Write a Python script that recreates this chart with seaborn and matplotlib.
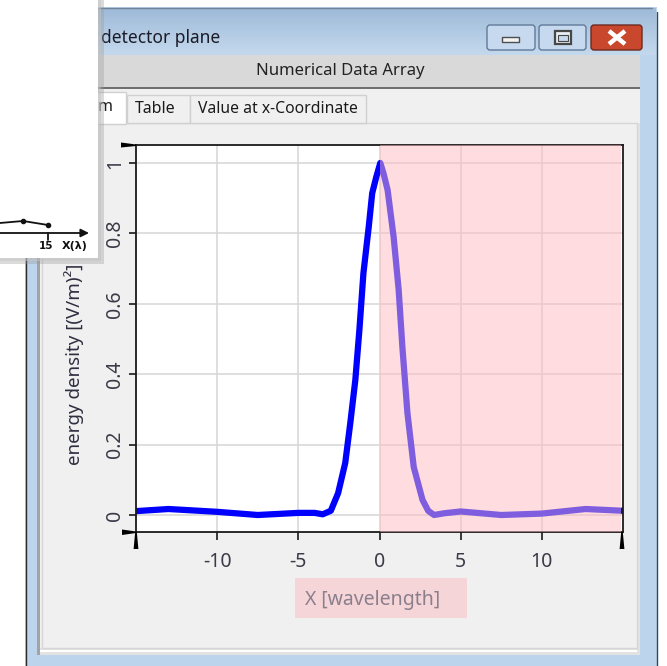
import numpy as np
import matplotlib
matplotlib.use("Agg")
import matplotlib.pyplot as plt
import seaborn as sns
from matplotlib.patches import Rectangle, FancyBboxPatch, Polygon

# energy density profile across the detector plane
x_pos = [-15, -13, -10, -7.5, -5, -4, -3.5, -3.0, -2.55, -2.11, -1.80, -1.49,
         -1.24, -0.99, -0.66, -0.45, -0.2, 0.05, 0.25, 0.5, 0.87, 1.18, 1.41,
         1.72, 2.11, 2.65, 3.0, 3.36, 4, 5, 7.5, 10, 12.7, 15]
energy = [0.011, 0.017, 0.009, 0.0, 0.006, 0.006, 0.002, 0.012, 0.062, 0.148,
          0.261, 0.383, 0.525, 0.687, 0.82, 0.914, 0.96, 1.0, 0.97, 0.923,
          0.79, 0.64, 0.477, 0.29, 0.136, 0.043, 0.012, 0.0, 0.005, 0.01,
          0.0, 0.004, 0.017, 0.012]
x_ticks = [-10, -5, 0, 5, 10]
y_ticks = [0, 0.2, 0.4, 0.6, 0.8, 1]
y_tick_labels = ["0", "0.2", "0.4", "0.6", "0.8", "1"]

sns.set_theme(style="white")
plt.rcParams["font.family"] = ["Noto Sans", "DejaVu Sans"]

W, H = 667, 666
fig = plt.figure(figsize=(W / 100, H / 100), dpi=100)
fig.patch.set_facecolor("white")

# ---- window chrome (pixel coordinates) ----
bg = fig.add_axes([0, 0, 1, 1], zorder=0)
bg.set_xlim(0, W)
bg.set_ylim(H, 0)
bg.axis("off")


def rect(ax, x0, y0, x1, y1, **kw):
    kw.setdefault("ec", "none")
    ax.add_patch(Rectangle((x0, y0), x1 - x0, y1 - y0, **kw))


rect(bg, 25, 7, 657, H, fc="#bcd4ec")
grad = np.linspace(0, 1, 64)[:, None, None]
top_c = np.array([0.62, 0.73, 0.85])
bot_c = np.array([0.77, 0.85, 0.93])
bg.imshow(top_c * (1 - grad) + bot_c * grad, extent=[26, 656, 55, 8],
          aspect="auto", zorder=1)
bg.plot([25.5, 25.5], [12, H], color="#2b2b2b", lw=1, zorder=2)
bg.plot([656.5, 656.5], [12, H], color="#31495f", lw=1, zorder=2)
bg.plot([30, 652], [7.5, 7.5], color="#6f8498", lw=1, zorder=2)

rect(bg, 37, 55, 640, 87, fc="#d9d9d9", zorder=2)
rect(bg, 37, 87, 640, 89, fc="#6f6f6f", zorder=2)
rect(bg, 37, 89, 640, 655, fc="#f0f0f0", zorder=2)
rect(bg, 37, 89, 40, 655, fc="#a3a3a3", zorder=3)
rect(bg, 40, 648, 640, 655, fc="#e2e2e2", zorder=3)
rect(bg, 40, 650, 640, 652, fc="#ffffff", zorder=3)
rect(bg, 637, 123, 640, 655, fc="#e2e2e2", zorder=3)
rect(bg, 42, 123, 637, 648, fc="#f0f0f0", ec="#d6d6d6", lw=1, zorder=3)

bg.text(340, 71, "Numerical Data Array", ha="center", va="center",
        fontsize=12, color="#222222", zorder=4)
bg.text(101, 38, "detector plane", ha="left", va="center",
        fontsize=12.5, color="#1b1b28", zorder=4)

# tabs
rect(bg, 45, 92, 126, 124, fc="#ffffff", ec="#d0d0d0", lw=1, zorder=4)
rect(bg, 127, 95, 190, 123, fc="#f0f0f0", ec="#d0d0d0", lw=1, zorder=4)
rect(bg, 190, 95, 366, 123, fc="#f0f0f0", ec="#d0d0d0", lw=1, zorder=4)
bg.text(114, 107, "Diagram", ha="right", va="center", fontsize=11.5,
        color="#1b1b1b", zorder=5)
bg.text(155, 109, "Table", ha="center", va="center", fontsize=11.5,
        color="#1b1b1b", zorder=5)
bg.text(278, 109, "Value at x-Coordinate", ha="center", va="center",
        fontsize=11.3, color="#1b1b1b", zorder=5)

# caption buttons
for x0, w, fc, ec in [(487, 48, "#c6d9ee", "#5f7a98"),
                      (539, 47, "#c6d9ee", "#5f7a98"),
                      (591, 51, "#c9472c", "#6b2a20")]:
    bg.add_patch(FancyBboxPatch((x0, 25), w, 25,
                                boxstyle="round,pad=0,rounding_size=3",
                                fc=fc, ec=ec, lw=1, zorder=4))
rect(bg, 502, 37, 519, 42, fc="#f3f3f3", ec="#4e4e4e", lw=1, zorder=5)
rect(bg, 555, 31, 571, 44, fc="#e8eef5", ec="#474747", lw=1.6, zorder=5)
rect(bg, 558, 35, 568, 41, fc="#c6d9ee", ec="#474747", lw=0.8, zorder=6)
bg.plot([609, 625], [31, 44], color="white", lw=3.2, solid_capstyle="butt", zorder=5)
bg.plot([609, 625], [44, 31], color="white", lw=3.2, solid_capstyle="butt", zorder=5)

# x-label backdrop
rect(bg, 295, 578, 467, 618, fc="#f6d5d9", zorder=5)

# ---- chart ----
left, right, top, bottom = 136, 623, 145, 532
ax = fig.add_axes([left / W, (H - bottom) / H, (right - left) / W,
                   (bottom - top) / H], zorder=1)
ax.set_facecolor("white")
sns.lineplot(x=x_pos, y=energy, ax=ax, color="#0000ff", linewidth=4.5,
             sort=False, solid_joinstyle="round", zorder=2)
ax.axvspan(0, 14.9, color="#ffbbc1", alpha=0.5, lw=0, zorder=3)

ax.set_xlim(-15, 15)
ax.set_ylim(-0.0483, 1.051)
ax.set_xticks(x_ticks)
ax.set_xticklabels([str(t) for t in x_ticks])
ax.set_yticks(y_ticks)
ax.set_yticklabels(y_tick_labels)
ax.grid(True, color="#d6d6d6", lw=1.1)
ax.set_axisbelow(True)
for s in ax.spines.values():
    s.set_color("#1a1a1a")
    s.set_linewidth(1.3)
ax.tick_params(axis="x", direction="out", length=6, width=1.2, color="#1a1a1a",
               labelsize=14, labelcolor="#3a3a48", pad=8.5, bottom=True)
ax.tick_params(axis="y", direction="out", length=5, width=1.2, color="#1a1a1a",
               labelsize=14, labelcolor="#3a3a48", pad=3, left=True,
               labelrotation=90)
for lab in ax.get_yticklabels():
    lab.set_va("center")

ax.set_xlabel("X [wavelength]", fontsize=14, color="#8a7f8c")
ax.xaxis.set_label_coords((373 - left) / (right - left), (bottom - 590) / (bottom - top))
ax.set_ylabel("energy density [(V/m)²]", fontsize=13.5, color="#2e2e40")
ax.yaxis.set_label_coords((84 - left) / (right - left), (bottom - 364) / (bottom - top))

# ---- overlay: axis end wedges and floating sketch panel ----
ov = fig.add_axes([0, 0, 1, 1], zorder=3)
ov.set_xlim(0, W)
ov.set_ylim(H, 0)
ov.axis("off")
ov.patch.set_alpha(0)

wedge = dict(fc="#000000", ec="none")
ov.add_patch(Polygon([(121, 142.5), (136, 144.5), (136, 146), (121, 147.5)], **wedge))
ov.add_patch(Polygon([(122, 529.5), (136, 531.5), (136, 533), (122, 535)], **wedge))
for xe in (136, 622):
    ov.add_patch(Polygon([(xe - 0.8, 532), (xe + 0.8, 532),
                          (xe + 2.4, 549), (xe - 2.4, 549)], **wedge))

rect(ov, 0, 0, 104, 264, fc="#9a9a9a", alpha=0.35)
rect(ov, 0, 0, 101, 261, fc="#c4c4c4", alpha=0.5)
rect(ov, 0, 0, 98, 258, fc="#ffffff")
ov.plot([0, 23, 48], [223, 221, 225], color="#111111", lw=1.3)
ov.plot([23, 48], [221, 225], "o", color="#111111", ms=3)
ov.annotate("", xy=(89, 233), xytext=(0, 233),
            arrowprops=dict(arrowstyle="-|>", color="#111111", lw=1.3,
                            mutation_scale=12, shrinkA=0, shrinkB=0))
ov.plot([48, 48], [233, 240], color="#111111", lw=1.3)
ov.text(46, 246, "15", ha="center", va="center", fontsize=7.5,
        fontweight="bold", color="#111111", family="DejaVu Sans")
ov.text(75, 246, "X(λ)", ha="center", va="center", fontsize=8,
        fontweight="bold", color="#111111", family="DejaVu Sans")

fig.savefig("out.png", dpi=100)
